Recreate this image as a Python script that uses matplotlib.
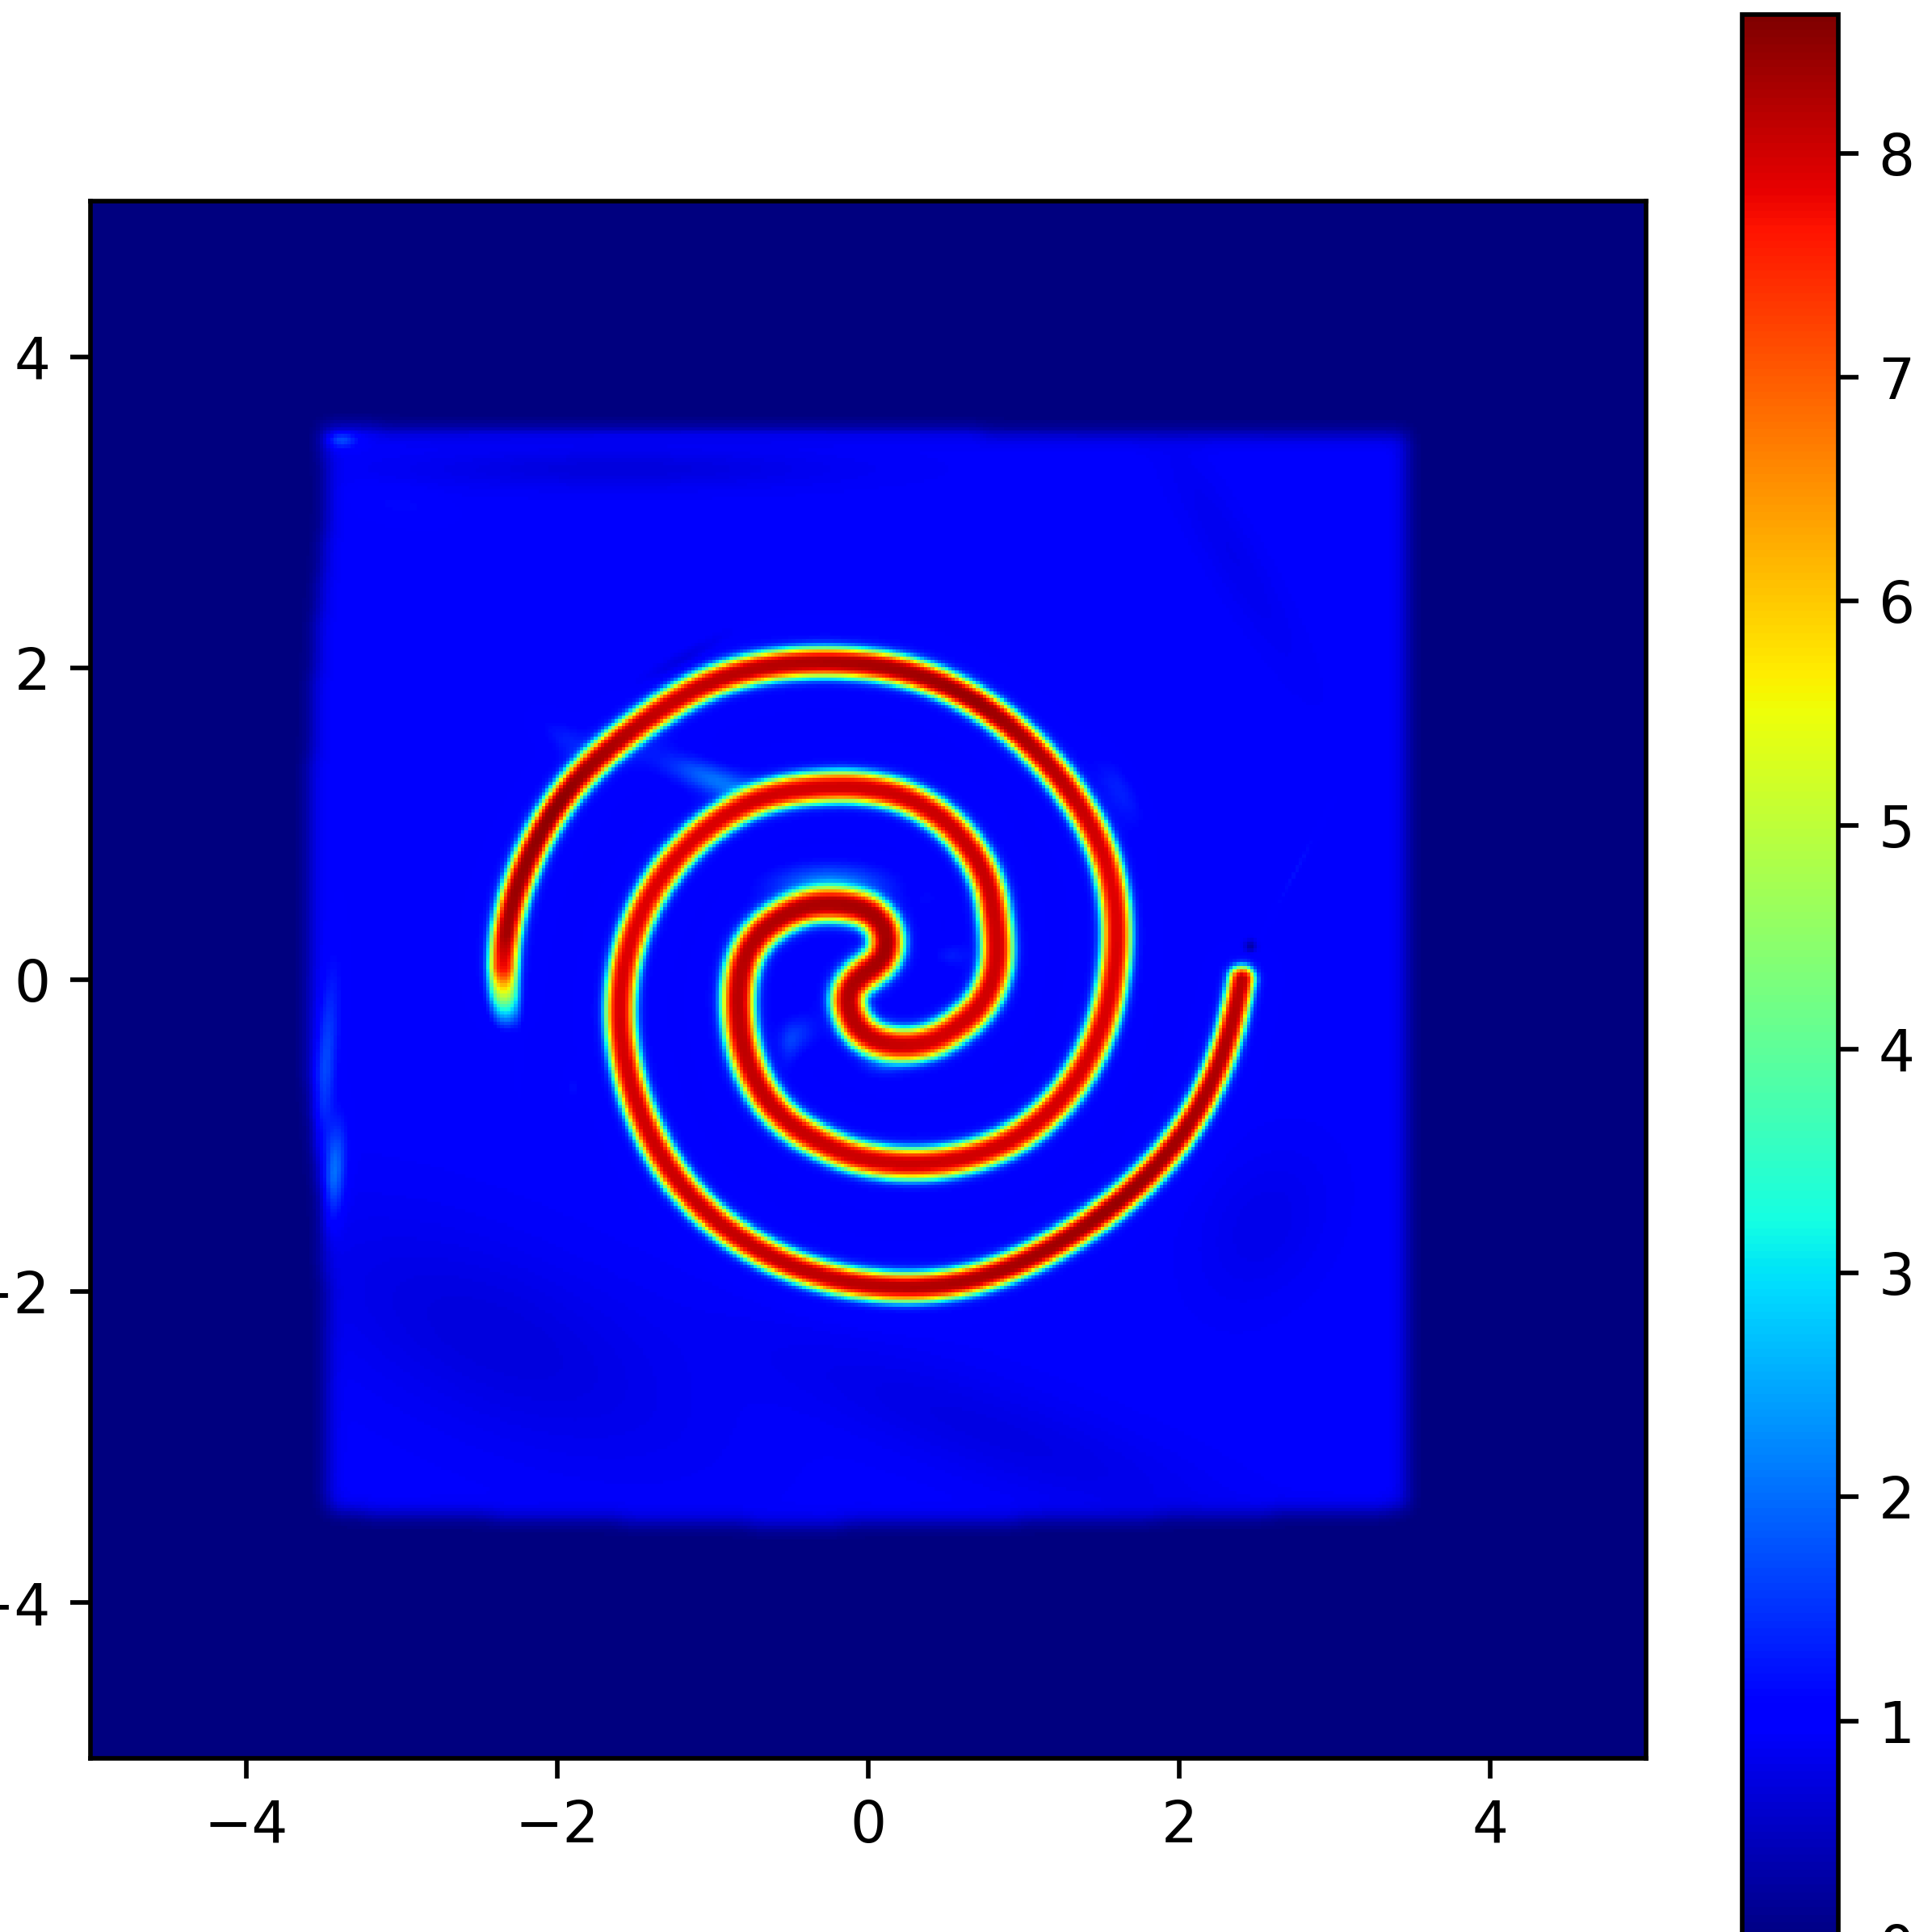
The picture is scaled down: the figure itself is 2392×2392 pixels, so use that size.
#!/usr/bin/env python3
"""
plot.py - density map of a two armed spiral with a jet colorbar.

The field is rebuilt from values read off the picture: the ridge line of the
spiral, the outline of the disturbed square and a few faint wisps.
"""

import numpy as np
import matplotlib
matplotlib.use("Agg")
import matplotlib.pyplot as plt
from matplotlib.path import Path

# ridge line of the spiral, from the faded left tail to the right hand tip
ridge_x = [-2.336, -2.366, -2.376, -2.345, -2.302, -2.241, -2.163, -2.077, -1.964, -1.826,
           -1.687, -1.549, -1.462, -1.307, -1.099, -0.839, -0.580, -0.320, 0.026, 0.320,
           0.493, 0.666, 0.839, 1.012, 1.186, 1.341, 1.462, 1.549, 1.601, 1.618,
           1.610, 1.575, 1.540, 1.480, 1.393, 1.272, 1.116, 0.943, 0.753, 0.493,
           0.234, 0.026, -0.147, -0.320, -0.493, -0.649, -0.753, -0.813, -0.840, -0.831,
           -0.787, -0.692, -0.545, -0.372, -0.147, 0.009, 0.100, 0.130, 0.095, -0.040,
           -0.150, -0.135, -0.105, -0.026, 0.182, 0.407, 0.580, 0.718, 0.805, 0.831,
           0.822, 0.796, 0.744, 0.614, 0.476, 0.320, 0.147, -0.026, -0.147, -0.493,
           -0.753, -0.926, -1.099, -1.255, -1.376, -1.480, -1.549, -1.592, -1.627, -1.601,
           -1.532, -1.445, -1.324, -1.168, -0.978, -0.753, -0.493, -0.234, 0.026, 0.234,
           0.493, 0.753, 1.012, 1.272, 1.497, 1.705, 1.878, 2.034, 2.172, 2.276,
           2.345, 2.388, 2.406]
ridge_y = [-0.227, -0.054, 0.171, 0.344, 0.517, 0.690, 0.863, 1.037, 1.210, 1.383,
           1.486, 1.582, 1.645, 1.765, 1.911, 1.997, 2.040, 2.054, 2.040, 1.988,
           1.919, 1.833, 1.711, 1.564, 1.374, 1.175, 0.985, 0.794, 0.604, 0.344,
           0.085, -0.106, -0.244, -0.417, -0.590, -0.763, -0.919, -1.040, -1.118, -1.179,
           -1.190, -1.165, -1.118, -1.040, -0.936, -0.781, -0.590, -0.400, -0.175, -0.002,
           0.171, 0.310, 0.413, 0.483, 0.483, 0.448, 0.360, 0.258, 0.110, 0.040,
           -0.085, -0.170, -0.260, -0.365, -0.426, -0.400, -0.296, -0.175, -0.002, 0.154,
           0.335, 0.517, 0.690, 0.898, 1.036, 1.140, 1.210, 1.240, 1.250, 1.227,
           1.166, 1.071, 0.950, 0.794, 0.638, 0.448, 0.275, 0.085, -0.180, -0.452,
           -0.711, -0.954, -1.196, -1.404, -1.577, -1.733, -1.862, -1.940, -1.980, -2.001,
           -1.983, -1.932, -1.819, -1.681, -1.525, -1.369, -1.196, -1.006, -0.781, -0.538,
           -0.313, -0.106, 0.000]

# strength and half width along the ridge (position is a fraction of its length)
ridge_pos = [0.0, 0.006, 0.013, 0.022, 0.06, 0.10, 0.19, 0.25, 0.40, 0.50, 0.55, 0.60, 0.72, 0.85, 0.93, 1.0]
ridge_peak = [1.0, 4.4, 7.6, 8.3, 8.5, 8.0, 8.4, 7.8, 8.0, 8.3, 7.9, 8.0, 7.8, 8.1, 8.4, 8.1]
ridge_width = [0.088, 0.092, 0.094, 0.096, 0.096, 0.098, 0.096, 0.096, 0.104, 0.116, 0.108, 0.102, 0.098, 0.096, 0.094, 0.086]

# outline of the disturbed square
square_x = [-3.50, 3.46, 3.47, 3.45, 1.50, -0.50, -3.47, -3.50, -3.60, -3.60, -3.55, -3.48]
square_y = [3.54, 3.50, 0.50, -3.40, -3.46, -3.50, -3.42, -1.50, -0.50, 1.00, 2.20, 3.00]
square_level = 0.96

# faint wisps: centre, long and short radius, angle in degrees, amplitude
wisp_x = [-3.39, -3.50, -3.44, -0.98, -1.95, -0.45, 0.53, 2.458, 2.75, 1.62,
          -1.60, -0.80, -2.40, 2.34, 0.80, -3.00, -0.25, 0.10, -0.51, -1.90,
          -1.20, 0.39, 2.54, -1.30, -2.25]
wisp_y = [3.47, -0.60, -1.25, 1.28, 1.55, -0.35, 0.154, 0.214, 0.70, 1.21,
          3.28, 3.50, -2.30, 2.73, -2.90, 3.05, 0.62, -0.55, -0.42, -0.69,
          2.05, 0.52, -1.58, 1.40, -0.10]
wisp_a = [0.10, 0.60, 0.30, 0.30, 0.18, 0.12, 0.10, 0.04, 0.35, 0.24,
          1.30, 2.40, 1.30, 0.80, 1.50, 0.25, 0.32, 0.12, 0.06, 0.05,
          0.30, 0.07, 0.50, 0.30, 0.45]
wisp_b = [0.05, 0.07, 0.07, 0.09, 0.09, 0.10, 0.07, 0.04, 0.02, 0.09,
          0.12, 0.03, 0.55, 0.15, 0.30, 0.10, 0.11, 0.06, 0.12, 0.10,
          0.05, 0.07, 0.35, 0.14, 0.03]
wisp_ang = [0, 85, 85, -20, -35, 60, 0, 0, 62, -60,
            0, 0, -25, -60, -20, -10, 0, 0, 0, 0,
            28, 0, 60, -20, 90]
wisp_amp = [0.9, 0.8, 1.2, 1.0, 0.3, 0.5, 0.3, -0.7, 0.25, 0.35,
            -0.25, 0.2, -0.25, -0.12, -0.2, 0.18, 1.0, 0.4, 0.3, 0.2,
            -0.3, 0.15, -0.15, 0.12, 0.15]

cbar_ticks = [0, 1, 2, 3, 4, 5, 6, 7, 8]
axis_ticks = [-4, -2, 0, 2, 4]

N = 448
VMIN, VMAX = 0.0, 8.62
PX = 1 / 2392
SCALE = 5.1  # the picture is a small default figure blown up


def catmull_rom(x, y, n=6000):
    p = np.column_stack([x, y])
    p = np.vstack([2 * p[0] - p[1], p, 2 * p[-1] - p[-2]])
    u = np.linspace(0, len(p) - 3 - 1e-9, n)
    i = u.astype(int)
    t = (u - i)[:, None]
    a, b, c, d = p[i], p[i + 1], p[i + 2], p[i + 3]
    return 0.5 * (2 * b + (c - a) * t + (2 * a - 5 * b + 4 * c - d) * t**2 + (3 * b - a - 3 * c + d) * t**3)


def blur_path(p, ds, sigma):
    # gaussian along the arc, ends padded by straight extrapolation
    m = int(4 * sigma / ds)
    k = np.exp(-0.5 * (np.arange(-m, m + 1) * ds / sigma) ** 2)
    k /= k.sum()
    out = np.zeros_like(p)
    ramp = np.arange(m, 0, -1)[:, None]
    head = p[0] - ramp * (p[1] - p[0])
    tail = p[-1] + ramp[::-1] * (p[-1] - p[-2])
    full = np.vstack([head, p, tail])
    for c in range(2):
        out[:, c] = np.convolve(full[:, c], k, mode="valid")
    return out


def smooth_path(x, y):
    # the read points wobble a bit: even out the long arcs, keep the tight centre
    raw = catmull_rom(x, y)
    seg = np.hypot(*np.diff(raw, axis=0).T)
    s = np.r_[0, np.cumsum(seg)]
    ds = s[-1] / (len(raw) - 1)
    even = s[-1] * np.linspace(0, 1, len(raw))
    p = np.column_stack([np.interp(even, s, raw[:, 0]), np.interp(even, s, raw[:, 1])])
    wide = blur_path(p, ds, 0.30)
    tight = blur_path(p, ds, 0.09)
    f = even / s[-1]
    keep = np.interp(f, [0.0, 0.28, 0.38, 0.62, 0.72, 1.0], [1, 1, 0, 0, 1, 1])[:, None]
    return keep * wide + (1 - keep) * tight, f


def square_field(xc, yc):
    xx, yy = np.meshgrid(xc, yc)
    inside = Path(np.column_stack([square_x, square_y])).contains_points(np.column_stack([xx.ravel(), yy.ravel()]))
    mask = inside.reshape(xx.shape).astype(float)
    # soften the edge a little
    k = np.exp(-0.5 * (np.arange(-8, 9) / 2.5) ** 2)
    k /= k.sum()
    mask = np.apply_along_axis(lambda r: np.convolve(r, k, mode="same"), 0, mask)
    mask = np.apply_along_axis(lambda r: np.convolve(r, k, mode="same"), 1, mask)

    z = square_level * mask
    for x0, y0, a, b, ang, amp in zip(wisp_x, wisp_y, wisp_a, wisp_b, wisp_ang, wisp_amp):
        th = np.deg2rad(ang)
        u = (xx - x0) * np.cos(th) + (yy - y0) * np.sin(th)
        v = -(xx - x0) * np.sin(th) + (yy - y0) * np.cos(th)
        z += amp * np.exp(-((u / a) ** 2) - ((v / b) ** 2)) * mask
    return np.clip(z, 0, None)


def ridge_field(xc, yc, z):
    path, s = smooth_path(ridge_x, ridge_y)
    peak = np.interp(s, ridge_pos, ridge_peak)
    width = np.interp(s, ridge_pos, ridge_width)

    dx = xc[1] - xc[0]
    half = int(0.45 / dx)
    ridge = np.zeros_like(z)
    for (px, py), pk, w in zip(path, peak, width):
        i0 = int((px - xc[0]) / dx)
        j0 = int((py - yc[0]) / dx)
        ii = np.arange(i0 - half, i0 + half + 1)
        jj = np.arange(j0 - half, j0 + half + 1)
        d = np.hypot((xc[ii] - px)[None, :], (yc[jj] - py)[:, None])
        # flat topped band with a weak soft skirt
        val = pk * (0.93 * np.exp(-((d / w) ** 3.4)) + 0.07 * np.exp(-((d / (1.7 * w)) ** 2)))
        ridge[np.ix_(jj, ii)] = np.maximum(ridge[np.ix_(jj, ii)], val)
    return z + ridge * (1 - z / VMAX)


def main():
    xc = np.linspace(-5, 5, N, endpoint=False) + 5.0 / N
    yc = xc.copy()
    z = ridge_field(xc, yc, square_field(xc, yc))

    plt.rcParams.update({
        "font.size": 10 * SCALE,
        "axes.linewidth": 0.8 * SCALE,
        "xtick.major.size": 3.5 * SCALE, "ytick.major.size": 3.5 * SCALE,
        "xtick.major.width": 0.8 * SCALE, "ytick.major.width": 0.8 * SCALE,
        "xtick.major.pad": 3.5 * SCALE, "ytick.major.pad": 3.5 * SCALE,
    })

    fig = plt.figure(figsize=(23.92, 23.92), dpi=100)
    ax = fig.add_axes([112 * PX, (2392 - 2177) * PX, 1926 * PX, 1928 * PX])
    im = ax.imshow(z, origin="lower", extent=[-5, 5, -5, 5], cmap="jet", vmin=VMIN, vmax=VMAX,
                   interpolation="nearest", aspect="auto")
    ax.set_xticks(axis_ticks)
    ax.set_yticks(axis_ticks)

    # the colorbar runs off the bottom of the picture, as in the original crop
    cax = fig.add_axes([2157 * PX, (2392 - 2408) * PX, 119 * PX, 2390 * PX])
    cbar = fig.colorbar(im, cax=cax)
    cbar.set_ticks(cbar_ticks)

    fig.savefig("out.png", dpi=100)
    plt.close(fig)


if __name__ == "__main__":
    main()
